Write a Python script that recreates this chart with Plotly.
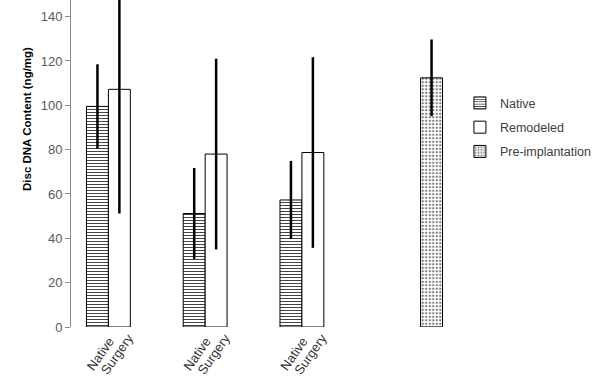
import plotly.graph_objects as go

categories = [0, 1, 2, 3]
tick_labels_top = ["Native", "Native", "Native", ""]
tick_labels_bottom = ["Surgery", "Surgery", "Surgery", ""]
native = [99.5, 51.2, 57.3, None]
native_err = [19.0, 20.5, 17.6, 0]
remodeled = [107.2, 78.0, 78.7, None]
remodeled_err = [56.0, 43.0, 43.0, 0]
pre_impl = [None, None, None, 112.4]
pre_impl_err = [0, 0, 0, 17.3]

FONT = "Liberation Sans"

def err(arr):
    return dict(type="data", array=arr, visible=True, color="black",
                thickness=2.5, width=0)

fig = go.Figure()
fig.add_trace(go.Bar(
    x=categories, y=native, name="Native", error_y=err(native_err),
    legendgroup="a",
    marker=dict(color="white", line=dict(color="black", width=1),
                pattern=dict(shape="-", fgcolor="#444444", bgcolor="white",
                             size=3, solidity=0.34, fillmode="replace")),
))
fig.add_trace(go.Bar(
    x=categories, y=remodeled, name="Remodeled", error_y=err(remodeled_err),
    legendgroup="b",
    marker=dict(color="white", line=dict(color="black", width=1)),
))
fig.add_trace(go.Bar(
    x=categories, y=pre_impl, name="Pre-implantation", error_y=err(pre_impl_err),
    legendgroup="c",
    marker=dict(color="white", line=dict(color="black", width=1),
                pattern=dict(shape=".", fgcolor="#777777", bgcolor="white",
                             size=3.5, solidity=0.35, fillmode="replace")),
))
# invisible helper trace so the second (label) x-axis is drawn
fig.add_trace(go.Scatter(
    x=categories, y=native, xaxis="x2", yaxis="y", mode="markers",
    marker=dict(opacity=0), showlegend=False, hoverinfo="skip",
))

tickfont = dict(family=FONT, size=13, color="#333333")
fig.update_layout(
    width=600, height=380,
    margin=dict(l=71, r=141.5, t=0, b=53.3, autoexpand=False),
    paper_bgcolor="white", plot_bgcolor="white",
    barmode="group", bargap=0.32, bargroupgap=0,
    font=dict(family=FONT, size=13, color="#404040"),
    showlegend=True,
    legend=dict(x=1.005, xanchor="left", y=0.73, yanchor="top",
                font=dict(family=FONT, size=12.5, color="#404040"),
                traceorder="grouped", tracegroupgap=5,
                bgcolor="rgba(0,0,0,0)"),
    xaxis=dict(range=[-0.5, 3.5], tickmode="array", tickvals=categories,
               ticktext=tick_labels_top, tickangle=-55, showline=False,
               showgrid=False, zeroline=False, ticks="", automargin=False,
               ticklabelshift=-10, ticklabelstandoff=3,
               tickfont=tickfont),
    xaxis2=dict(range=[-0.5, 3.5], tickmode="array", tickvals=categories,
                ticktext=tick_labels_bottom, tickangle=-55, showline=False,
                showgrid=False, zeroline=False, ticks="", automargin=False,
                overlaying="x", side="bottom", anchor="y",
                ticklabelshift=9, ticklabelstandoff=0,
                tickfont=tickfont),
    yaxis=dict(range=[0, 147.5], tickmode="array",
               tickvals=[0, 20, 40, 60, 80, 100, 120, 140],
               showline=True, linecolor="#8a8a8a", linewidth=1,
               ticks="outside", ticklen=5, tickcolor="#8a8a8a",
               showgrid=False, zeroline=False, automargin=False,
               tickfont=dict(family=FONT, size=13, color="#595959")),
    annotations=[dict(text="<b>Disc DNA Content (ng/mg)</b>", textangle=-90,
                      xref="paper", yref="paper", x=-0.1135, y=0.41,
                      xanchor="center", yanchor="bottom", showarrow=False,
                      font=dict(family=FONT, size=11.5, color="black"))],
)

fig.write_html("out.html", config={"displayModeBar": False},
               post_script="document.body.style.margin='0px';"
                           "document.body.style.padding='0px';")
